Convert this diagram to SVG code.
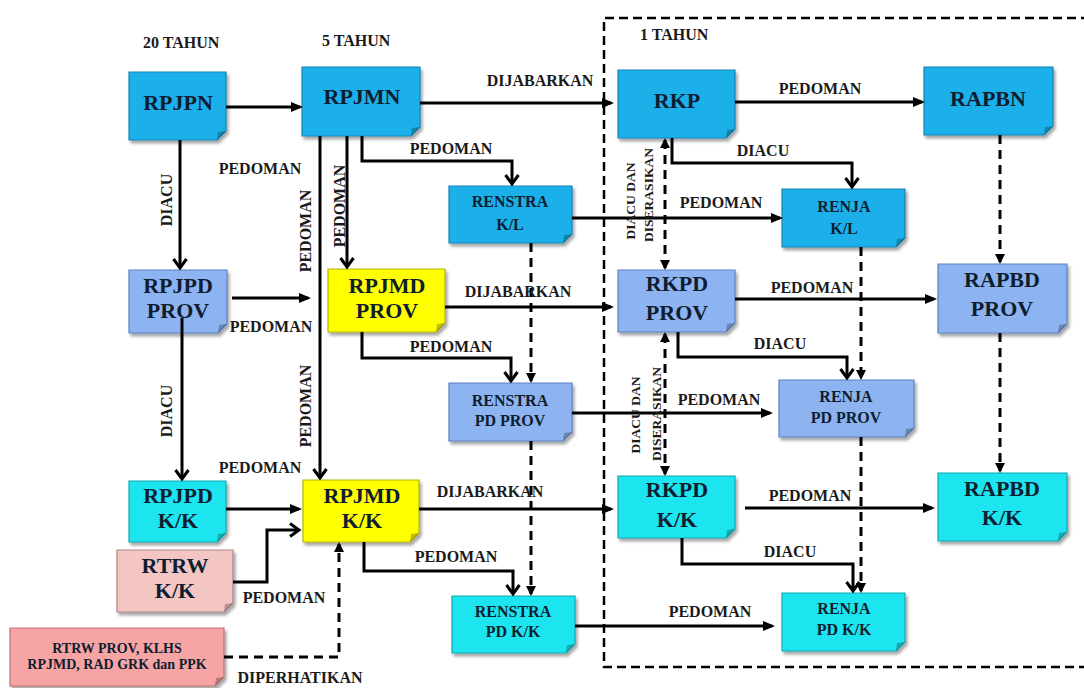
<svg xmlns="http://www.w3.org/2000/svg" width="1084" height="688" viewBox="0 0 1084 688">
<defs>
<style>
text{font-family:"Liberation Serif","DejaVu Serif",serif;font-weight:bold;}
.t{font-size:22px;fill:#0f1d30;text-anchor:middle;}
.ts{font-size:16px;fill:#0f1d30;text-anchor:middle;}
.tx{font-size:14px;fill:#0f1d30;text-anchor:middle;}
.lb{font-size:16px;fill:#1a1a1a;text-anchor:middle;}
.lr{font-size:13.5px;fill:#1a1a1a;text-anchor:middle;}
.hd{font-size:16px;fill:#1a1a1a;}
.c1{fill:#1cb0ea;stroke:#1284b4;stroke-width:1.2;}
.c2{fill:#8db4f0;stroke:#5b80c2;stroke-width:1.2;}
.c3{fill:#1fe5ef;stroke:#13a7b0;stroke-width:1.2;}
.cy{fill:#ffff00;stroke:#b5b500;stroke-width:1.2;}
.cp{fill:#f3c6c4;stroke:#a98583;stroke-width:1.2;}
.cr{fill:#f7a4a4;stroke:#bf7272;stroke-width:1.2;}
.f{fill:#000;opacity:0.25;}
.s{fill:none;stroke:#000;stroke-width:3;}
.d{fill:none;stroke:#000;stroke-width:3;stroke-dasharray:9 6;}
.sh{filter:url(#sh);}
</style>
<filter id="sh" x="-10%" y="-10%" width="130%" height="140%">
<feDropShadow dx="2" dy="3" stdDeviation="1.5" flood-color="#000" flood-opacity="0.35"/>
</filter>
<marker id="arr" markerUnits="userSpaceOnUse" viewBox="0 0 12 10" markerWidth="12" markerHeight="10" refX="9" refY="5" orient="auto">
<path d="M0,0 L12,5 L0,10 Z" fill="#000"/>
</marker>
<marker id="chev" markerUnits="userSpaceOnUse" viewBox="0 0 14 16" markerWidth="14" markerHeight="16" refX="11" refY="8" orient="auto">
<path d="M2,1.5 L11,8 L2,14.5" fill="none" stroke="#000" stroke-width="3"/>
</marker>
<marker id="darr" markerUnits="userSpaceOnUse" viewBox="0 0 10 10" markerWidth="10" markerHeight="10" refX="8" refY="5" orient="auto-start-reverse">
<path d="M0,0 L10,5 L0,10 Z" fill="#000"/>
</marker>
</defs>
<rect width="1084" height="688" fill="#ffffff"/>

<g id="frame">
<path d="M1090,18 H604 V667 H1090" fill="none" stroke="#000" stroke-width="2.5" stroke-dasharray="9 5"/>
<text class="hd" x="143" y="48">20 TAHUN</text>
<text class="hd" x="322" y="46">5 TAHUN</text>
<text class="hd" x="640" y="40">1 TAHUN</text>
</g>

<g id="rpjpn"><path class="c1 sh" d="M129,72 H226 V131 L217,140 H129 Z"/><path class="f" d="M226,131 L217,140 L218,132 Z"/><text class="t" x="178" y="110">RPJPN</text></g>
<g id="rpjmn"><path class="c1 sh" d="M302,67 H420 V127 L411,136 H302 Z"/><path class="f" d="M420,127 L411,136 L412,128 Z"/><text class="t" x="362" y="104">RPJMN</text></g>
<g id="rkp"><path class="c1 sh" d="M618,70 H735 V129 L726,138 H618 Z"/><path class="f" d="M735,129 L726,138 L727,130 Z"/><text class="t" x="677" y="108">RKP</text></g>
<g id="rapbn"><path class="c1 sh" d="M924,67 H1053 V126 L1044,135 H924 Z"/><path class="f" d="M1053,126 L1044,135 L1045,127 Z"/><text class="t" x="988" y="106">RAPBN</text></g>
<g id="renstra-kl"><path class="c1 sh" d="M449,186 H572 V234 L563,243 H449 Z"/><path class="f" d="M572,234 L563,243 L564,235 Z"/><text class="ts" x="510" y="207">RENSTRA</text><text class="ts" x="510" y="230">K/L</text></g>
<g id="renja-kl"><path class="c1 sh" d="M782,189 H905 V238 L896,247 H782 Z"/><path class="f" d="M905,238 L896,247 L897,239 Z"/><text class="ts" x="844" y="212">RENJA</text><text class="ts" x="844" y="234">K/L</text></g>

<g id="rpjpd-prov"><path class="c2 sh" d="M129,270 H227 V324 L218,333 H129 Z"/><path class="f" d="M227,324 L218,333 L219,325 Z"/><text class="t" x="178" y="293">RPJPD</text><text class="t" x="178" y="318">PROV</text></g>
<g id="rpjmd-prov"><path class="cy sh" d="M328,269 H445 V323 L436,332 H328 Z"/><path class="f" d="M445,323 L436,332 L437,324 Z"/><text class="t" x="387" y="293">RPJMD</text><text class="t" x="387" y="318">PROV</text></g>
<g id="rkpd-prov"><path class="c2 sh" d="M618,270 H735 V323 L726,332 H618 Z"/><path class="f" d="M735,323 L726,332 L727,324 Z"/><text class="t" x="677" y="291">RKPD</text><text class="t" x="677" y="320">PROV</text></g>
<g id="rapbd-prov"><path class="c2 sh" d="M938,264 H1067 V324 L1058,333 H938 Z"/><path class="f" d="M1067,324 L1058,333 L1059,325 Z"/><text class="t" x="1002" y="287">RAPBD</text><text class="t" x="1002" y="316">PROV</text></g>
<g id="renstra-pd-prov"><path class="c2 sh" d="M449,383 H572 V432 L563,441 H449 Z"/><path class="f" d="M572,432 L563,441 L564,433 Z"/><text class="ts" x="510" y="406">RENSTRA</text><text class="ts" x="510" y="426">PD PROV</text></g>
<g id="renja-pd-prov"><path class="c2 sh" d="M779,380 H914 V428 L905,437 H779 Z"/><path class="f" d="M914,428 L905,437 L906,429 Z"/><text class="ts" x="846" y="402">RENJA</text><text class="ts" x="846" y="423">PD PROV</text></g>

<g id="rpjpd-kk"><path class="c3 sh" d="M129,481 H226 V533 L217,542 H129 Z"/><path class="f" d="M226,533 L217,542 L218,534 Z"/><text class="t" x="178" y="503">RPJPD</text><text class="t" x="178" y="528">K/K</text></g>
<g id="rpjmd-kk"><path class="cy sh" d="M303,480 H419 V533 L410,542 H303 Z"/><path class="f" d="M419,533 L410,542 L411,534 Z"/><text class="t" x="362" y="503">RPJMD</text><text class="t" x="362" y="528">K/K</text></g>
<g id="rtrw-kk"><path class="cp sh" d="M117,550 H233 V603 L224,612 H117 Z"/><path class="f" d="M233,603 L224,612 L225,604 Z"/><text class="t" x="175" y="573">RTRW</text><text class="t" x="175" y="598">K/K</text></g>
<g id="rtrw-prov"><path class="cr sh" d="M10,628 H224 V677 L215,686 H10 Z"/><path class="f" d="M224,677 L215,686 L216,678 Z"/><text class="tx" x="117" y="653">RTRW PROV, KLHS</text><text class="tx" x="117" y="669">RPJMD, RAD GRK dan PPK</text></g>
<g id="rkpd-kk"><path class="c3 sh" d="M618,476 H735 V529 L726,538 H618 Z"/><path class="f" d="M735,529 L726,538 L727,530 Z"/><text class="t" x="677" y="497">RKPD</text><text class="t" x="677" y="527">K/K</text></g>
<g id="rapbd-kk"><path class="c3 sh" d="M938,473 H1067 V532 L1058,541 H938 Z"/><path class="f" d="M1067,532 L1058,541 L1059,533 Z"/><text class="t" x="1002" y="496">RAPBD</text><text class="t" x="1002" y="525">K/K</text></g>
<g id="renstra-pd-kk"><path class="c3 sh" d="M452,596 H575 V644 L566,653 H452 Z"/><path class="f" d="M575,644 L566,653 L567,645 Z"/><text class="ts" x="513" y="617">RENSTRA</text><text class="ts" x="513" y="637">PD K/K</text></g>
<g id="renja-pd-kk"><path class="c3 sh" d="M782,593 H905 V642 L896,651 H782 Z"/><path class="f" d="M905,642 L896,651 L897,643 Z"/><text class="ts" x="844" y="614">RENJA</text><text class="ts" x="844" y="635">PD K/K</text></g>

<g id="connectors">
<path class="s" d="M226,107 H300" marker-end="url(#arr)"/>
<path class="s" d="M420,103 H611" marker-end="url(#arr)"/>
<path class="s" d="M735,102 H922" marker-end="url(#arr)"/>
<path class="s" d="M180,140 V268" marker-end="url(#chev)"/>
<path class="s" d="M347,136 V267" marker-end="url(#chev)"/>
<path class="s" d="M320,136 V478" marker-end="url(#chev)"/>
<path class="s" d="M362,136 V161 H512 V184" marker-end="url(#chev)"/>
<path class="s" d="M672,138 V163 H852 V187" marker-end="url(#chev)"/>
<path class="s" d="M572,218 H780" marker-end="url(#arr)"/>
<path class="s" d="M232,298 H308" marker-end="url(#arr)"/>
<path class="s" d="M182,318 V479" marker-end="url(#chev)"/>
<path class="s" d="M445,307 H611" marker-end="url(#arr)"/>
<path class="s" d="M362,332 V358 H511 V381" marker-end="url(#chev)"/>
<path class="s" d="M735,299 H934" marker-end="url(#arr)"/>
<path class="s" d="M678,332 V357 H847 V378" marker-end="url(#chev)"/>
<path class="s" d="M572,413 H770" marker-end="url(#arr)"/>
<path class="s" d="M226,509 H299" marker-end="url(#arr)"/>
<path class="s" d="M233,582 H267 V530 H299" marker-end="url(#chev)"/>
<path class="s" d="M419,509 H611" marker-end="url(#arr)"/>
<path class="s" d="M364,542 V571 H513 V594" marker-end="url(#chev)"/>
<path class="s" d="M745,508 H932" marker-end="url(#arr)"/>
<path class="s" d="M682,538 V564 H853 V591" marker-end="url(#chev)"/>
<path class="s" d="M575,626 H772" marker-end="url(#arr)"/>
<path class="d" d="M1000,135 V262" marker-end="url(#darr)"/>
<path class="d" d="M531,243 V381" marker-end="url(#darr)"/>
<path class="d" d="M861,247 V378" marker-end="url(#darr)"/>
<path class="d" d="M665,140 V268" marker-start="url(#darr)" marker-end="url(#darr)"/>
<path class="d" d="M665,334 V474" marker-start="url(#darr)" marker-end="url(#darr)"/>
<path class="d" d="M1000,333 V471" marker-end="url(#darr)"/>
<path class="d" d="M531,441 V594" marker-end="url(#darr)"/>
<path class="d" d="M861,437 V591" marker-end="url(#darr)"/>
<path class="d" d="M224,657 H339 V544" marker-end="url(#darr)"/>

<text class="lb" x="540" y="86">DIJABARKAN</text>
<text class="lb" x="820" y="94">PEDOMAN</text>
<text class="lb" x="260" y="174">PEDOMAN</text>
<text class="lb" x="451" y="154">PEDOMAN</text>
<text class="lb" x="763" y="156">DIACU</text>
<text class="lb" x="721" y="208">PEDOMAN</text>
<text class="lb" x="271" y="332">PEDOMAN</text>
<text class="lb" x="518" y="297">DIJABARKAN</text>
<text class="lb" x="451" y="352">PEDOMAN</text>
<text class="lb" x="812" y="293">PEDOMAN</text>
<text class="lb" x="780" y="349">DIACU</text>
<text class="lb" x="719" y="405">PEDOMAN</text>
<text class="lb" x="260" y="473">PEDOMAN</text>
<text class="lb" x="284" y="603">PEDOMAN</text>
<text class="lb" x="300" y="683">DIPERHATIKAN</text>
<text class="lb" x="490" y="497">DIJABARKAN</text>
<text class="lb" x="456" y="562">PEDOMAN</text>
<text class="lb" x="810" y="501">PEDOMAN</text>
<text class="lb" x="790" y="557">DIACU</text>
<text class="lb" x="710" y="617">PEDOMAN</text>

<text class="lb" transform="translate(172,200) rotate(-90)">DIACU</text>
<text class="lb" transform="translate(172,411) rotate(-90)">DIACU</text>
<text class="lb" transform="translate(345,206) rotate(-90)">PEDOMAN</text>
<text class="lb" transform="translate(311,231) rotate(-90)">PEDOMAN</text>
<text class="lb" transform="translate(311,406) rotate(-90)">PEDOMAN</text>
<text class="lr" transform="translate(635,201) rotate(-90)">DIACU DAN</text>
<text class="lr" transform="translate(653,195) rotate(-90)">DISERASIKAN</text>
<text class="lr" transform="translate(640,415) rotate(-90)">DIACU DAN</text>
<text class="lr" transform="translate(661,414) rotate(-90)">DISERASIKAN</text>
</g>
</svg>
